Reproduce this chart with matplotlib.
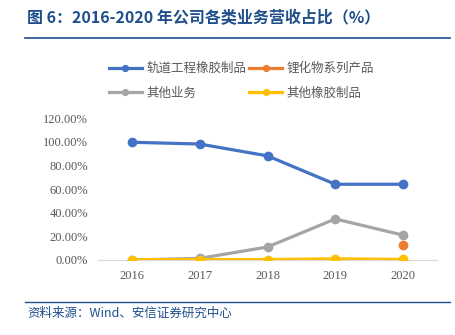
import numpy as np
import matplotlib.pyplot as plt
from matplotlib.lines import Line2D

plt.rcParams['font.family'] = ['Noto Sans CJK SC', 'DejaVu Sans']

years = ['2016', '2017', '2018', '2019', '2020']
rail_rubber = [99.5, 98.0, 88.0, 64.0, 64.0]      # 轨道工程橡胶制品
lithium = [np.nan, np.nan, np.nan, np.nan, 13.0]  # 锂化物系列产品
other_biz = [0.0, 1.4, 11.0, 34.7, 21.0]          # 其他业务
other_rubber = [0.3, 0.4, 0.4, 1.0, 0.5]          # 其他橡胶制品

c_blue = '#4472C4'
c_orange = '#ED7D31'
c_gray = '#A5A5A5'
c_yellow = '#FFC000'

fig = plt.figure(figsize=(4.56, 3.35), dpi=100)

# title + header rule
fig.text(27/456, 1 - 18/335, '图 6：2016-2020 年公司各类业务营收占比（%）',
         fontsize=11.5, fontweight='bold', color='#1F4E8C', va='center', ha='left')
fig.add_artist(Line2D([25/456, 450/456], [1 - 38/335, 1 - 38/335], color='#1F4E8C', lw=1.2))
fig.add_artist(Line2D([25/456, 450/456], [1 - 302/335, 1 - 302/335], color='#1F4E8C', lw=1.0))
fig.text(27/456, 1 - 313/335, '资料来源：Wind、安信证券研究中心',
         fontsize=9, style='italic', color='#1F4E8C', va='center', ha='left')

ax = fig.add_axes([98/456, 1 - 260/335, (437 - 98)/456, (260 - 118)/335])
x = np.arange(len(years))
lw = 2.3
ms = 6
h1, = ax.plot(x, rail_rubber, '-o', color=c_blue, lw=lw, ms=ms, label='轨道工程橡胶制品', zorder=3)
h2, = ax.plot(x, lithium, '-o', color=c_orange, lw=lw, ms=ms, label='锂化物系列产品', zorder=3)
h3, = ax.plot(x, other_biz, '-o', color=c_gray, lw=lw, ms=ms, label='其他业务', zorder=3)
h4, = ax.plot(x, other_rubber, '-o', color=c_yellow, lw=lw, ms=ms, label='其他橡胶制品', zorder=4)

ax.set_xlim(-0.5, len(years) - 0.5)
ax.set_ylim(0, 120)
ax.set_yticks(np.arange(0, 121, 20))
ax.set_yticklabels(['%.2f%%' % v for v in np.arange(0, 121, 20)],
                   family='Liberation Serif', fontsize=9, color='#595959')
ax.set_xticks(x)
ax.set_xticklabels(years, family='Liberation Serif', fontsize=9, color='#595959')
ax.tick_params(length=0, pad=7)
for s in ['top', 'right', 'left']:
    ax.spines[s].set_visible(False)
ax.spines['bottom'].set_color('#D9D9D9')
ax.patch.set_visible(False)

leg = ax.legend([h1, h3, h2, h4], [h.get_label() for h in [h1, h3, h2, h4]],
                loc='lower left', bbox_to_anchor=(98/456, 1 - 111/335), bbox_transform=fig.transFigure,
                ncol=2, frameon=False, fontsize=9, labelcolor='#595959', handlelength=2.6,
                columnspacing=0.2, handletextpad=0.4, labelspacing=0.95, markerscale=0.7)

fig.savefig('out.png', dpi=100)
